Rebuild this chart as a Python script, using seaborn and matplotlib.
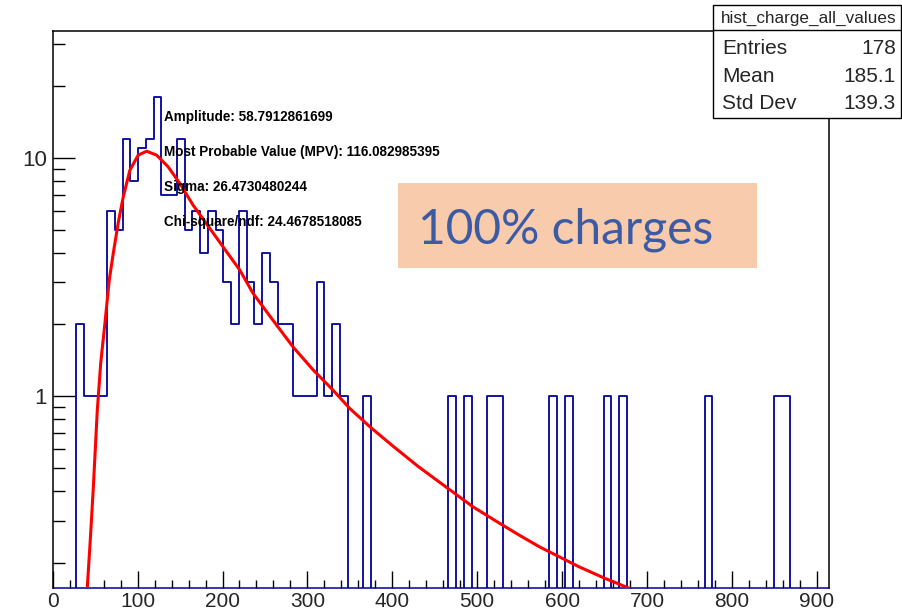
import matplotlib
matplotlib.use("Agg")
import matplotlib.pyplot as plt
import seaborn as sns
import numpy as np
import pandas as pd
from matplotlib.patches import Rectangle
from matplotlib.lines import Line2D
from matplotlib.ticker import FixedLocator, MultipleLocator, LogLocator, NullFormatter

# ---------------- data ----------------
counts = [0, 0, 0, 2, 1, 1, 1, 6, 5, 12,
          8, 11, 12, 18, 7, 7, 12, 5, 6, 4,
          6, 5, 3, 2, 6, 3, 2, 4, 3, 2,
          2, 1, 1, 1, 3, 1, 2, 1, 0, 0,
          1, 0, 0, 0, 0, 0, 0, 0, 0, 0,
          0, 1, 0, 1, 0, 0, 1, 1, 0, 0,
          0, 0, 0, 0, 1, 0, 1, 0, 0, 0,
          0, 1, 0, 1, 0, 0, 0, 0, 0, 0,
          0, 0, 0, 0, 1, 0, 0, 0, 0, 0,
          0, 0, 0, 1, 1, 0, 0, 0, 0, 0]
n_bins = 100
x_min, x_max = 0.0, 914.0

fit_x = [40.7, 44.3, 47.8, 52.5, 56.5, 61.5, 66.6, 71.3, 77.2, 83.1,
         90.9, 100.7, 110.6, 122.4, 136.0, 149.8, 165.4, 183.0, 200.7,
         220.4, 236.0, 259.5, 283.0, 306.6, 330.1, 349.8, 375.0, 400.0,
         430.0, 465.4, 495.0, 520.0, 547.0, 573.3, 620.0, 650.0, 679.2]
fit_y = [0.156, 0.25, 0.41, 0.87, 1.37, 2.02, 3.07, 3.97, 5.35, 6.86,
         8.88, 10.27, 10.67, 10.27, 9.17, 7.81, 6.33, 5.18, 4.23,
         3.38, 2.70, 2.08, 1.61, 1.29, 1.06, 0.888, 0.736, 0.62,
         0.508, 0.41, 0.343, 0.302, 0.264, 0.233, 0.192, 0.172, 0.156]

fit_labels = ["Amplitude: 58.7912861699",
              "Most Probable Value (MPV): 116.082985395",
              "Sigma: 26.4730480244",
              "Chi-square/ndf: 24.4678518085"]
stats_title = "hist_charge_all_values"
stats_names = ["Entries", "Mean", "Std Dev"]
stats_values = ["178", "185.1", "139.3"]
annotation = "100% charges"
x_ticks = [0, 100, 200, 300, 400, 500, 600, 700, 800, 900]
y_ticks = [1, 10]
y_tick_labels = ["1", "10"]
y_range = (0.156, 34.1)

# ---------------- style ----------------
sns.set_style("white")
plt.rcParams['font.family'] = ['Liberation Sans', 'DejaVu Sans']

W, H = 902, 612
fig = plt.figure(figsize=(W / 100, H / 100), dpi=100)
L, R, T, B = 52.7, 828.7, 31.0, 588.3
ax = fig.add_axes([L / W, 1 - B / H, (R - L) / W, (B - T) / H])

def fx(px):
    return px / W

def fy(py):
    return 1 - py / H

bin_w = (x_max - x_min) / n_bins
centers = [x_min + (i + 0.5) * bin_w for i in range(n_bins)]
df = pd.DataFrame({"charge": centers, "count": counts})

sns.histplot(data=df, x="charge", weights="count", bins=n_bins,
             binrange=(x_min, x_max),
             element="step", fill=False, color="#000099",
             linewidth=1.3, ax=ax, zorder=2)
ax.set_yscale("log")

fit_df = pd.DataFrame({"x": fit_x, "y": fit_y})
sns.lineplot(data=fit_df, x="x", y="y", color="red", linewidth=2.2,
             ax=ax, zorder=3)

ax.set_xlim(x_min, x_max)
ax.set_ylim(*y_range)
ax.set_xlabel("")
ax.set_ylabel("")

ax.xaxis.set_major_locator(FixedLocator(x_ticks))
ax.xaxis.set_minor_locator(MultipleLocator(20))
ax.set_yticks(y_ticks, labels=y_tick_labels)
ax.yaxis.set_minor_locator(LogLocator(base=10, subs=[2, 3, 4, 5, 6, 7, 8, 9]))
ax.yaxis.set_minor_formatter(NullFormatter())

ax.tick_params(which='both', direction='in', bottom=True, left=True,
               top=False, right=False, color='black')
ax.tick_params(axis='x', which='major', length=12, width=1, labelsize=15, pad=2.8)
ax.tick_params(axis='x', which='minor', length=6, width=1)
ax.tick_params(axis='y', which='major', length=16, width=1, labelsize=16, pad=4)
ax.tick_params(axis='y', which='minor', length=8.4, width=1)

for s in ax.spines.values():
    s.set_visible(True)
    s.set_color('black')
    s.set_linewidth(1.1)
ax.spines['bottom'].set_color('#000099')

# fit labels
fit_label_y = [117, 152, 187, 222]
for lab, yy in zip(fit_labels, fit_label_y):
    fig.text(fx(164), fy(yy), lab, fontsize=9.75, fontweight='bold',
             ha='left', va='center', color='black', zorder=5)

# annotation box
fig.add_artist(Rectangle((fx(398), fy(268)), (757 - 398) / W, (268 - 183) / H,
                         transform=fig.transFigure, facecolor='#F8CBAD',
                         edgecolor='none', zorder=4))
fig.text(fx(565.5), fy(230), annotation, fontsize=34.5, family=['Lato', 'DejaVu Sans'],
         color='#3B5BA5', ha='center', va='center', zorder=5)

# stats box
bx0, bx1, by0, by1 = 712.7, 900.5, 5.0, 118.0
fig.add_artist(Rectangle((fx(bx0), fy(by1)), (bx1 - bx0) / W, (by1 - by0) / H,
                         transform=fig.transFigure, facecolor='white',
                         edgecolor='black', linewidth=1.0, zorder=6))
fig.add_artist(Line2D([fx(bx0), fx(bx1)], [fy(30), fy(30)],
                      transform=fig.transFigure, color='black',
                      linewidth=1.0, zorder=7))
fig.text(fx(809), fy(18), stats_title, fontsize=12.3,
         ha='center', va='center', zorder=8)
row_y = [49, 76, 103]
for name, val, yy in zip(stats_names, stats_values, row_y):
    fig.text(fx(722), fy(yy), name, fontsize=15, ha='left', va='center', zorder=8)
    fig.text(fx(896), fy(yy), val, fontsize=15, ha='right', va='center', zorder=8)

fig.savefig("out.png", dpi=100)
